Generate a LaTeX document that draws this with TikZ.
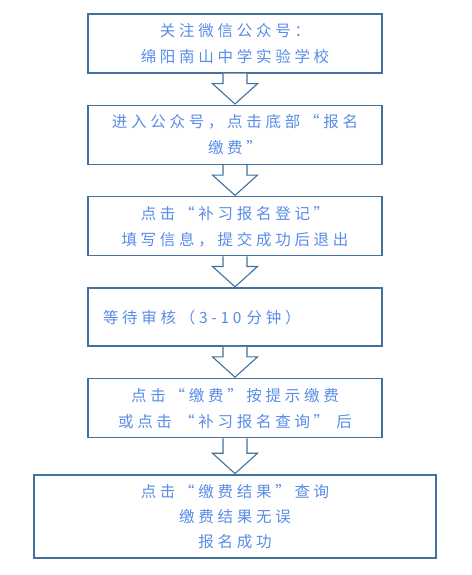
\documentclass[tikz,border=0pt]{standalone}
\usepackage{fontspec}
\setmainfont[LetterSpace=24]{Noto Sans CJK SC}
\usetikzlibrary{positioning,calc}
\definecolor{boxline}{RGB}{65,113,156}
\definecolor{steptext}{RGB}{88,140,232}
\begin{document}
\begin{tikzpicture}[x=1pt,y=1pt,node distance=31pt,
    stepbox/.style={rectangle, draw=boxline, line width=1.4pt, minimum width=294pt, minimum height=59pt,
      align=center, text=steptext, font=\fontsize{15.5}{26}\selectfont, inner sep=0pt},
    blockarr/.style={draw=boxline, line width=1.1pt, fill=white}]
  \useasboundingbox (0,0) rectangle (471,575);

  \node[stepbox] (s1) at (235,531.5) {关注微信公众号：\\绵阳南山中学实验学校};
  \node[stepbox] (s2) [below=of s1] {进入公众号，点击底部“报名\\缴费”};
  \node[stepbox] (s3) [below=of s2] {点击“补习报名登记”\\填写信息，提交成功后退出};
  \node[stepbox, minimum height=58pt, text width=264pt, align=left] (s4) [below=of s3] {等待审核（3-10 分钟）};
  \node[stepbox] (s5) [below=of s4] {点击“缴费”按提示缴费\\或点击 “补习报名查询” 后};
  \node[stepbox, minimum width=402pt, minimum height=83pt, line width=1.8pt, font=\fontsize{15.5}{25}\selectfont]
    (s6) [below=36pt of s5] {点击“缴费结果”查询\\缴费结果无误\\报名成功};

  % block arrows between steps
  \foreach \a/\b in {s1/s2, s2/s3, s3/s4, s4/s5, s5/s6}
    \draw[blockarr] let \p1=(\a.south), \p2=(\b.north) in
      (\x1-12pt,\y1) -- (\x1-12pt,\y2+21pt) -- (\x1-22.5pt,\y2+21pt) -- (\x2,\y2+0.7pt)
      -- (\x1+22.5pt,\y2+21pt) -- (\x1+12pt,\y2+21pt) -- (\x1+12pt,\y1);
\end{tikzpicture}
\end{document}
